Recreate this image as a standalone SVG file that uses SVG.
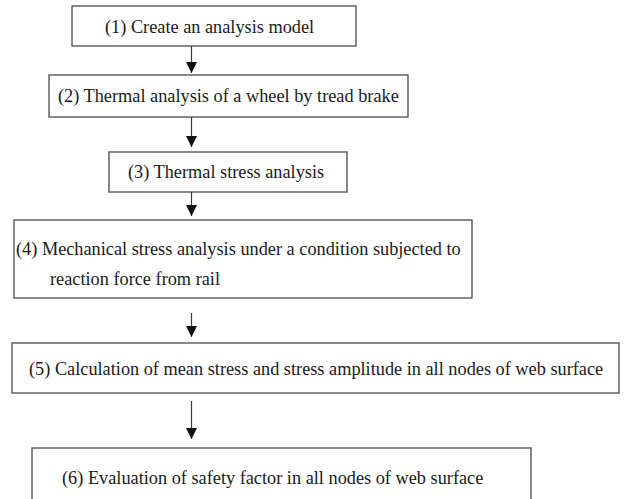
<svg xmlns="http://www.w3.org/2000/svg" width="624" height="499" viewBox="0 0 624 499">
<style>
.box{fill:#fff;stroke:#4a4a4a;stroke-width:1.3}
.t{font-family:"Liberation Serif","Times New Roman",serif;font-size:18.3px;fill:#1a1a1a}
.c{stroke:#3a3a3a;stroke-width:1.2;fill:none;marker-end:url(#ah)}
</style>
<defs>
<marker id="ah" markerUnits="userSpaceOnUse" markerWidth="11" markerHeight="11" refX="11" refY="5.5" orient="auto">
<path d="M0,0 L11,5.5 L0,11 z" fill="#111"/>
</marker>
</defs>
<rect width="624" height="499" fill="#fff"/>
<g id="n1"><rect class="box" x="72" y="6" width="284" height="40"/><text class="t" x="105" y="33">(1) Create an analysis model</text></g>
<g id="n2"><rect class="box" x="49" y="75" width="359" height="42"/><text class="t" x="58" y="102">(2) Thermal analysis of a wheel by tread brake</text></g>
<g id="n3"><rect class="box" x="109" y="152" width="238" height="40"/><text class="t" x="128" y="178">(3) Thermal stress analysis</text></g>
<g id="n4"><rect class="box" x="14" y="220" width="458" height="78"/><text class="t" x="16" y="255">(4) Mechanical stress analysis under a condition subjected to</text><text class="t" x="50" y="285">reaction force from rail</text></g>
<g id="n5"><rect class="box" x="12" y="343" width="607" height="50"/><text class="t" x="29" y="375">(5) Calculation of mean stress and stress amplitude in all nodes of web surface</text></g>
<g id="n6"><rect class="box" x="32" y="448" width="499" height="60"/><text class="t" x="62" y="484">(6) Evaluation of safety factor in all nodes of web surface</text></g>
<g id="connectors">
<line class="c" x1="191.5" y1="46" x2="191.5" y2="73"/>
<line class="c" x1="191.5" y1="117" x2="191.5" y2="147"/>
<line class="c" x1="191.5" y1="192" x2="191.5" y2="216"/>
<line class="c" x1="191.5" y1="313" x2="191.5" y2="337"/>
<line class="c" x1="191.5" y1="401" x2="191.5" y2="439"/>
</g>
</svg>
